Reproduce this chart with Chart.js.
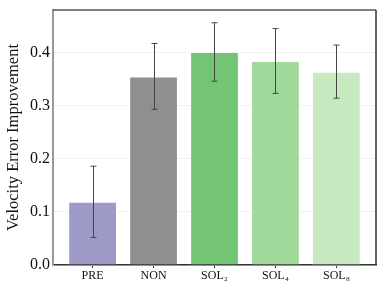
<!DOCTYPE html>
<html>
<head>
<meta charset="utf-8">
<script src="https://cdn.jsdelivr.net/npm/chart.js@4.4.1/dist/chart.umd.min.js"></script>
<style>
html,body{margin:0;padding:0;background:#fff;}
#wrap{width:387px;height:290px;position:relative;}
</style>
</head>
<body>
<div id="wrap"><canvas id="c" width="387" height="290"></canvas></div>
<script>
const categories = ["PRE", "NON", "SOL\u2082", "SOL\u2084", "SOL\u2088"];
const values = [0.119, 0.355, 0.401, 0.384, 0.364];
const errors = [0.067, 0.062, 0.055, 0.061, 0.050];
const barColors = ["#9e9ac8", "#8f8f8f", "#74c476", "#a1d99b", "#c7e9c0"];
const yTicks = [0.0, 0.1, 0.2, 0.3, 0.4];

const serif = "'Liberation Serif', 'DejaVu Serif', serif";

const errorBarPlugin = {
  id: 'errorBars',
  afterDatasetsDraw(chart) {
    const ctx = chart.ctx;
    const xs = chart.scales.x, ys = chart.scales.y;
    ctx.save();
    ctx.strokeStyle = '#444';
    ctx.lineWidth = 1;
    values.forEach((v, i) => {
      const x = Math.round(xs.getPixelForValue(i)) + 0.5;
      const yt = ys.getPixelForValue(v + errors[i]);
      const yb = ys.getPixelForValue(v - errors[i]);
      ctx.beginPath();
      ctx.moveTo(x, yt); ctx.lineTo(x, yb);
      ctx.moveTo(x - 3, yt); ctx.lineTo(x + 3, yt);
      ctx.moveTo(x - 3, yb); ctx.lineTo(x + 3, yb);
      ctx.stroke();
    });
    ctx.restore();
  }
};

const framePlugin = {
  id: 'frame',
  afterDraw(chart) {
    const a = chart.chartArea, ctx = chart.ctx;
    ctx.save();
    ctx.lineWidth = 1.5;
    ctx.strokeStyle = '#555';
    ctx.beginPath();
    ctx.moveTo(a.left, a.top); ctx.lineTo(a.right, a.top);
    ctx.stroke();
    ctx.strokeStyle = '#333';
    ctx.beginPath();
    ctx.moveTo(a.right, a.top); ctx.lineTo(a.right, a.bottom);
    ctx.stroke();
    ctx.restore();
  }
};

new Chart(document.getElementById('c'), {
  type: 'bar',
  data: {
    datasets: [{
      data: values.map((v, i) => ({x: i, y: v})),
      backgroundColor: barColors,
      borderColor: 'rgba(255,255,255,0.35)',
      borderWidth: 1,
      categoryPercentage: 1.0,
      barPercentage: 0.8
    }]
  },
  options: {
    responsive: false,
    animation: false,
    layout: {padding: {left: 4, right: 11, top: 10, bottom: 0}},
    plugins: {legend: {display: false}, tooltip: {enabled: false}},
    scales: {
      x: {
        type: 'linear',
        offset: false,
        min: -0.65,
        max: 4.65,
        afterBuildTicks: (s) => { s.ticks = categories.map((c, i) => ({value: i})); },
        afterFit: (s) => { s.height = 25; },
        ticks: {
          callback: (v) => categories[v],
          color: '#111',
          font: {family: serif, size: 12},
          padding: 1,
          maxRotation: 0,
          autoSkip: false
        },
        grid: {offset: false, drawOnChartArea: false, color: '#333', tickLength: 3, tickWidth: 1},
        border: {display: true, color: '#333', width: 1.5}
      },
      y: {
        min: 0,
        max: 0.48,
        afterBuildTicks: (s) => { s.ticks = yTicks.map(v => ({value: v})); },
        afterFit: (s) => { s.width = 49; s.paddingTop = 0; s.paddingBottom = 0; },
        ticks: {
          callback: (v) => v.toFixed(1),
          color: '#111',
          font: {family: serif, size: 16},
          padding: 3
        },
        grid: {color: '#f2f2f2', drawTicks: false, lineWidth: 1},
        border: {display: true, color: '#999', width: 2},
        title: {
          display: true,
          text: 'Velocity Error Improvement',
          color: '#111',
          font: {family: serif, size: 16.5},
          padding: {top: 0, bottom: 1}
        }
      }
    }
  },
  plugins: [errorBarPlugin, framePlugin]
});
</script>
</body>
</html>
